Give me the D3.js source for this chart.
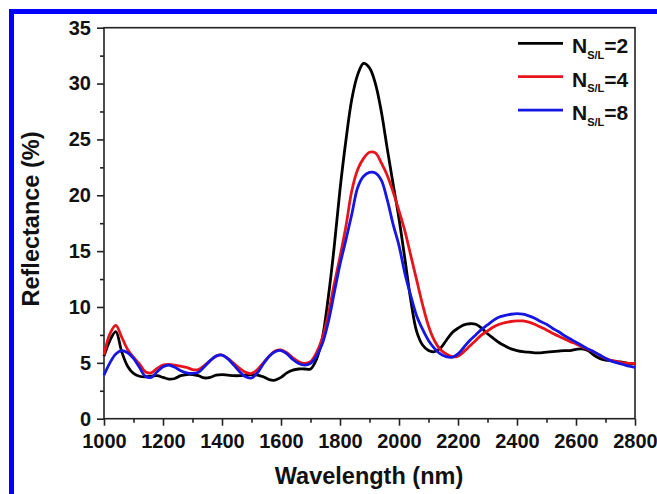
<!DOCTYPE html>
<html>
<head>
<meta charset="utf-8">
<script src="https://cdn.jsdelivr.net/npm/d3@7"></script>
<style>
  html, body { margin: 0; padding: 0; background: #fff; }
  svg { display: block; font-family: "Liberation Sans", Arial, sans-serif; }
</style>
</head>
<body>
<svg id="chart" width="657" height="494"></svg>
<script>
// Wavelength sampling grid (nm)
const wavelength = [
  1000, 1020, 1040, 1060, 1080, 1100, 1120, 1140, 1160, 1180,
  1200, 1220, 1240, 1260, 1280, 1300, 1320, 1340, 1360, 1380,
  1400, 1420, 1440, 1460, 1480, 1500, 1520, 1540, 1560, 1580,
  1600, 1620, 1640, 1660, 1680, 1700, 1720, 1740, 1760, 1780,
  1800, 1820, 1840, 1860, 1880, 1900, 1920, 1940, 1960, 1980,
  2000, 2020, 2040, 2060, 2080, 2100, 2120, 2140, 2160, 2180,
  2200, 2220, 2240, 2260, 2280, 2300, 2320, 2340, 2360, 2380,
  2400, 2420, 2440, 2460, 2480, 2500, 2520, 2540, 2560, 2580,
  2600, 2620, 2640, 2660, 2680, 2700, 2720, 2740, 2760, 2780,
  2800
];

// Reflectance (%) for N_S/L = 2
const reflN2 = [
  5.6, 7.0, 7.8, 6.0, 4.7, 4.05, 3.8, 3.75, 3.8, 3.85,
  3.7, 3.55, 3.6, 3.85, 3.95, 3.95, 3.85, 3.65, 3.7, 3.9,
  3.95, 3.9, 3.85, 3.85, 3.9, 3.95, 3.9, 3.75, 3.5, 3.45,
  3.7, 4.1, 4.35, 4.45, 4.45, 4.45, 5.3, 7.2, 10.8, 15.3,
  20.5, 24.9, 28.6, 30.8, 31.8, 31.4, 30.0, 27.5, 24.2, 21.0,
  17.9, 14.3, 10.6, 7.8, 6.6, 6.1, 6.0, 6.3, 7.0, 7.7,
  8.1, 8.4, 8.5, 8.45, 8.1, 7.6, 7.2, 6.8, 6.5, 6.25,
  6.1, 6.0, 5.95, 5.9, 5.9, 5.95, 6.0, 6.05, 6.1, 6.1,
  6.2, 6.25, 6.1, 5.7, 5.4, 5.25, 5.2, 5.1, 5.05, 4.95,
  4.95
];

// Reflectance (%) for N_S/L = 4
const reflN4 = [
  5.7, 7.6, 8.35, 7.3, 6.2, 5.5, 4.9, 4.2, 4.1, 4.5,
  4.8, 4.85, 4.8, 4.7, 4.6, 4.4, 4.4, 4.75, 5.2, 5.6,
  5.7, 5.4, 4.95, 4.5, 4.15, 4.05, 4.4, 5.0, 5.6, 6.05,
  6.15, 5.9, 5.45, 5.1, 4.95, 5.1, 5.9, 7.2, 9.3, 12.0,
  14.5, 17.2, 20.4, 22.3, 23.3, 23.85, 23.8, 22.9, 21.8, 20.3,
  18.6, 16.8, 14.6, 12.4, 10.2, 8.3, 7.0, 6.2, 5.8, 5.55,
  5.6, 6.0, 6.5, 7.0, 7.5, 7.85, 8.2, 8.45, 8.6, 8.7,
  8.75, 8.75, 8.65, 8.45, 8.2, 7.95, 7.65, 7.4, 7.15, 6.9,
  6.7, 6.45, 6.2, 6.0, 5.7, 5.4, 5.2, 5.1, 5.0, 4.95,
  4.95
];

// Reflectance (%) for N_S/L = 8
const reflN8 = [
  3.9, 5.0, 5.8, 6.1, 5.9, 5.4, 4.6, 3.8, 3.7, 4.2,
  4.65, 4.8, 4.6, 4.3, 4.1, 4.05, 4.15, 4.65, 5.2, 5.6,
  5.7, 5.35, 4.8, 4.2, 3.75, 3.65, 4.1, 4.9, 5.6, 6.0,
  6.1, 5.8, 5.3, 4.95, 4.8, 4.95, 5.6, 6.7, 8.6, 11.2,
  13.8, 16.0, 18.3, 20.7, 21.7, 22.05, 22.0, 21.35, 19.6, 17.4,
  15.5, 13.0, 11.0, 9.2, 8.0, 7.0, 6.3, 5.8, 5.55, 5.5,
  5.8, 6.4, 7.0, 7.5, 8.0, 8.4, 8.8, 9.1, 9.25, 9.35,
  9.4, 9.35, 9.2, 9.0, 8.7, 8.45, 8.1, 7.8, 7.45, 7.15,
  6.85, 6.55, 6.25, 6.0, 5.7, 5.4, 5.15, 5.0, 4.85, 4.7,
  4.6
];

const seriesLabels = ["2", "4", "8"];
const seriesColors = ["#000000", "#e8141c", "#1616e2"];

const xMajorTicks = [1000, 1200, 1400, 1600, 1800, 2000, 2200, 2400, 2600, 2800];
const xMinorTicks = [1100, 1300, 1500, 1700, 1900, 2100, 2300, 2500, 2700];
const yMajorTicks = [0, 5, 10, 15, 20, 25, 30, 35];
const yMinorTicks = [2.5, 7.5, 12.5, 17.5, 22.5, 27.5, 32.5];

const svg = d3.select("#chart");

// blue page frame (left and top edges visible)
svg.append("rect")
  .attr("x", 11.5).attr("y", 11.5)
  .attr("width", 700).attr("height", 600)
  .attr("fill", "none")
  .attr("stroke", "#0000ff")
  .attr("stroke-width", 5);

const plot = { left: 104, right: 635, top: 27.7, bottom: 418.7 };

const x = d3.scaleLinear().domain([1000, 2800]).range([plot.left, plot.right]);
const y = d3.scaleLinear().domain([0, 35]).range([plot.bottom, plot.top]);

const axisColor = "#222";

// X axis
const gx = svg.append("g").attr("transform", `translate(0,${plot.bottom})`);
gx.call(d3.axisBottom(x).tickValues(xMajorTicks).tickSize(7).tickPadding(8).tickFormat(d3.format("d")));
const gxm = svg.append("g").attr("transform", `translate(0,${plot.bottom})`);
gxm.call(d3.axisBottom(x).tickValues(xMinorTicks).tickSize(4).tickFormat(""));
gxm.select(".domain").remove();

// Y axis
const gy = svg.append("g").attr("transform", `translate(${plot.left},0)`);
gy.call(d3.axisLeft(y).tickValues(yMajorTicks).tickSize(7).tickPadding(6).tickFormat(d3.format("d")));
const gym = svg.append("g").attr("transform", `translate(${plot.left},0)`);
gym.call(d3.axisLeft(y).tickValues(yMinorTicks).tickSize(4).tickFormat(""));
gym.select(".domain").remove();

[gx, gxm, gy, gym].forEach(g => {
  g.selectAll("line").attr("stroke", axisColor).attr("stroke-width", 1.6);
  g.selectAll(".domain").remove();
  g.selectAll("text")
    .attr("fill", "#111")
    .attr("font-size", 20)
    .attr("font-weight", "bold")
    .attr("font-family", "'Liberation Sans', Arial, sans-serif");
});

// plot frame
svg.append("rect")
  .attr("x", plot.left).attr("y", plot.top)
  .attr("width", plot.right - plot.left)
  .attr("height", plot.bottom - plot.top)
  .attr("fill", "none")
  .attr("stroke", axisColor)
  .attr("stroke-width", 1.6);

// curves
const line = d3.line()
  .x(d => x(d[0]))
  .y(d => y(d[1]))
  .curve(d3.curveCatmullRom.alpha(0.5));

const series = [reflN2, reflN4, reflN8];
series.forEach((vals, i) => {
  svg.append("path")
    .datum(wavelength.map((w, k) => [w, vals[k]]))
    .attr("fill", "none")
    .attr("stroke", seriesColors[i])
    .attr("stroke-width", 2.8)
    .attr("stroke-linejoin", "round")
    .attr("d", line);
});

// legend
const legend = svg.append("g");
seriesLabels.forEach((lab, i) => {
  const yy = 43.3 + i * 33.4;
  legend.append("line")
    .attr("x1", 518).attr("x2", 563)
    .attr("y1", yy).attr("y2", yy)
    .attr("stroke", seriesColors[i])
    .attr("stroke-width", 2.8);
  const t = legend.append("text")
    .attr("x", 572).attr("y", yy + 10)
    .attr("font-weight", "bold")
    .attr("fill", "#111");
  t.append("tspan").attr("font-size", 21).text("N");
  t.append("tspan").attr("font-size", 11).attr("dy", 5.7).text("S/L");
  t.append("tspan").attr("font-size", 21).attr("dy", -5.7).text("=" + lab);
});

// axis titles
svg.append("text")
  .attr("x", 369).attr("y", 484)
  .attr("text-anchor", "middle")
  .attr("font-size", 23.5)
  .attr("font-weight", "bold")
  .attr("fill", "#111")
  .text("Wavelength (nm)");

svg.append("text")
  .attr("transform", "translate(39,219) rotate(-90)")
  .attr("text-anchor", "middle")
  .attr("font-size", 23.5)
  .attr("font-weight", "bold")
  .attr("fill", "#111")
  .text("Reflectance (%)");
</script>
</body>
</html>
